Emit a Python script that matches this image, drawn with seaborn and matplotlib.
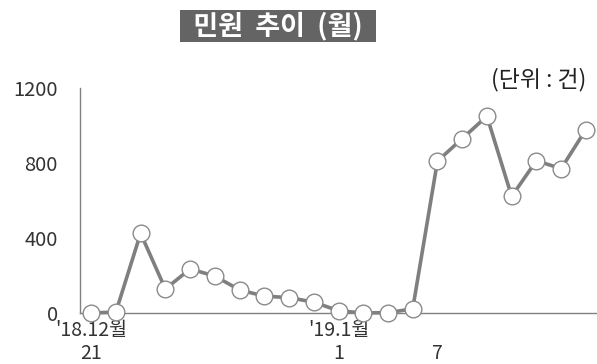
import seaborn as sns, pandas as pd, matplotlib
matplotlib.use("Agg")
import matplotlib.pyplot as plt

# daily complaints, 2018-12-21 onward
values = [0, 5, 425, 128, 235, 197, 123, 90, 82, 58, 12, 0, 2, 22,
          810, 930, 1050, 622, 812, 770, 978]
label_pos = [0, 10, 14]
label_txt = ["'18.12월\n21", "'19.1월\n1", "\n7"]
yticks = [0, 400, 800, 1200]

df = pd.DataFrame({"idx": range(len(values)), "cnt": values})

sns.set_style("white")
plt.rcParams['font.family'] = ['Noto Sans CJK KR', 'DejaVu Sans']

fig = plt.figure(figsize=(5.97, 3.64), dpi=100)
ax = fig.add_axes([80/597, 1-313/364, 517/597, 225/364])

sns.lineplot(data=df, x="idx", y="cnt", ax=ax, color="#7f7f7f", linewidth=2.6,
             marker="o", markersize=12, markerfacecolor="white",
             markeredgecolor="#8a8a8a", markeredgewidth=1.0, clip_on=False, zorder=3)

ax.set_xlim(-0.45, 20.45)
ax.set_ylim(0, 1200)
ax.set_yticks(yticks)
ax.set_yticklabels([str(v) for v in yticks], fontsize=14.5, color="#333333")
ax.set_xticks(label_pos)
ax.set_xticklabels(label_txt, fontsize=14, color="#333333", linespacing=1.15)
ax.set_xticks([i + 0.5 for i in range(20)], minor=True)
ax.tick_params(axis="x", which="major", length=0, pad=5)
ax.tick_params(axis="x", which="minor", length=5, width=1, color="#808080", direction="out")
ax.tick_params(axis="y", length=6, width=1, color="#808080", direction="out", pad=10)
ax.set_xlabel("")
ax.set_ylabel("")
for s in ["top", "right"]:
    ax.spines[s].set_visible(False)
for s in ["left", "bottom"]:
    ax.spines[s].set_color("#808080")
    ax.spines[s].set_linewidth(1)

fig.text(278/597, 1-26/364, "  민원  추이  (월)  ", ha="center", va="center", fontsize=19.5,
         fontweight="bold", color="white",
         bbox=dict(boxstyle="square,pad=0.05", facecolor="#646464", edgecolor="none"))
fig.text(586/597, 1-80/364, "(단위 : 건)", ha="right", va="center", fontsize=16.5, color="#222222")

fig.savefig("out.png", dpi=100)
